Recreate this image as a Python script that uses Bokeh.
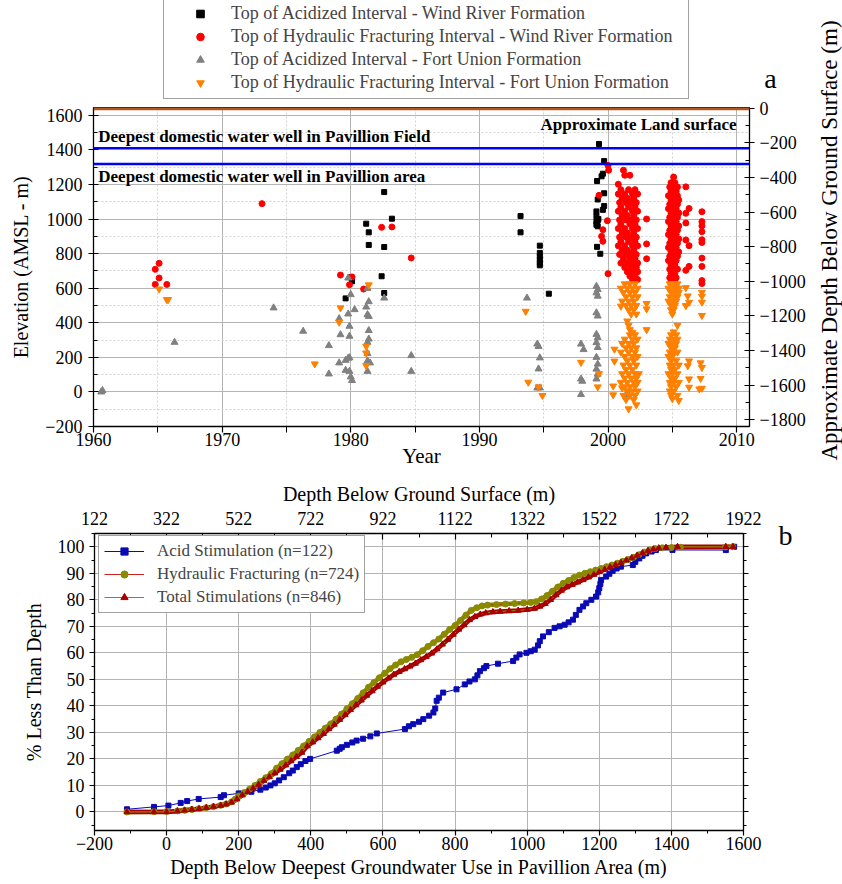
import math
from bokeh.plotting import figure
from bokeh.models import (Range1d, LinearAxis, FixedTicker, SingleIntervalTicker, Span, Label,
                          Legend, LegendItem, CustomJSTickFormatter)
from bokeh.layouts import column, row
from bokeh.embed import file_html
from bokeh.resources import INLINE

FONT = "Liberation Serif"

# ------------------------------------------------------------------ panel a data
land_surface_elev = 1640      # approximate land surface (m AMSL)
field_well_elev = 1410        # deepest domestic water well in Pavillion Field
area_well_elev = 1318         # deepest domestic water well in Pavillion area

year_ticks = [1960, 1970, 1980, 1990, 2000, 2010]
year_minor = [1965, 1975, 1985, 1995, 2005]
depth_ticks = [0, -200, -400, -600, -800, -1000, -1200, -1400, -1600, -1800]

# Top of Acidized Interval - Wind River Formation
acid_wr_year = [1979.6, 1980.0, 1980.1, 1981.2, 1981.4, 1981.4, 1982.4, 1982.6, 1982.6, 1982.6, 1983.2,
                1993.2, 1993.2, 1994.7, 1994.7, 1994.7, 1994.7, 1994.7, 1994.7, 1995.4,
                1999.3, 1999.7, 1999.6, 1999.5, 1999.15, 1999.7, 1999.2, 1999.7, 1999.6, 1999.1,
                1999.1, 1999.2, 1999.25, 1999.1, 1999.2, 1999.1, 1999.15, 1999.4]
acid_wr_elev = [541, 663, 640, 973, 923, 850, 669, 1156, 838, 572, 1002,
                1017, 923, 846, 804, 784, 765, 746, 732, 568,
                1434, 1335, 1262, 1247, 1220, 1149, 1113, 1075, 1053, 1044,
                1016, 992, 1000, 967, 958, 985, 839, 799]

# Top of Hydraulic Fracturing Interval - Wind River Formation (scattered wells)
hf_wr_year = [1964.8, 1965.1, 1965.1, 1964.8, 1965.7, 1973.1, 1979.2, 1980.1, 1979.9, 1981.0,
              1982.4, 1983.2, 1984.7, 1999.3, 1999.6, 1999.5, 1999.6, 1999.95, 2000.0, 2000.0,
              2000.05, 2000.8, 2001.2, 2001.3, 2001.7, 2003.0, 2003.0, 2003.0, 2005.1, 2006.05,
              2006.3, 2006.05, 2006.05, 2006.05, 2006.3, 2006.3, 2006.05, 2007.3, 2007.3, 2007.3,
              2007.3, 2007.3, 2007.3, 2007.3, 2007.3, 2007.3, 2007.3]
hf_wr_elev = [709, 744, 659, 622, 622, 1089, 676, 665, 620, 595,
              952, 954, 775, 1137, 938, 900, 871, 990, 1310, 684,
              1282, 1201, 1282, 1253, 1253, 1000, 856, 770, 1243, 1186,
              1061, 1033, 977, 879, 846, 726, 703, 1042, 985, 960,
              927, 880, 864, 774, 726, 644, 627]

# dense 2001-2002 Wind River fracturing cluster (rows of wells at each elevation)
hf_wr_blobA_elev = [1170, 1145, 1120, 1095, 1070, 1045, 1020, 995, 970, 945, 920,
                    895, 870, 845, 820, 795, 770, 745, 720, 695, 670, 650]
hf_wr_blobA_years = [
    [2001.0, 2001.6, 2002.1], [2000.8, 2001.3, 2001.9, 2002.3], [2001.1, 2001.5, 2002.0],
    [2000.9, 2001.4, 2001.8, 2002.2], [2001.0, 2001.6, 2002.1], [2000.8, 2001.3, 2001.9, 2002.3],
    [2001.1, 2001.5, 2002.0], [2000.9, 2001.4, 2001.8, 2002.2], [2001.0, 2001.7, 2002.1],
    [2000.8, 2001.3, 2001.9, 2002.3], [2001.1, 2001.5, 2002.0], [2000.9, 2001.4, 2001.8, 2002.2],
    [2001.0, 2001.6, 2002.1], [2000.8, 2001.3, 2001.9, 2002.3], [2001.1, 2001.5, 2002.0],
    [2000.9, 2001.4, 2001.8, 2002.2], [2001.2, 2001.7, 2002.1], [2001.0, 2001.5, 2001.9, 2002.3],
    [2001.3, 2001.8, 2002.2], [2001.5, 2001.9, 2002.3], [2001.7, 2002.1], [2001.9, 2002.3]]

# dense 2005 Wind River fracturing cluster
hf_wr_blobB_elev = [1210, 1185, 1160, 1135, 1110, 1085, 1060, 1035, 1010, 985, 960, 935, 910,
                    885, 860, 835, 810, 785, 760, 735, 710, 685, 660, 640]
hf_wr_blobB_years = [
    [2004.9, 2005.2], [2004.8, 2005.1, 2005.4], [2004.9, 2005.3], [2004.7, 2005.0, 2005.4],
    [2004.9, 2005.2, 2005.5], [2004.8, 2005.1, 2005.4], [2004.7, 2005.0, 2005.3],
    [2004.9, 2005.2, 2005.5], [2004.8, 2005.1, 2005.4], [2004.7, 2005.0, 2005.3],
    [2004.9, 2005.2, 2005.5], [2004.8, 2005.1, 2005.4], [2004.7, 2005.0, 2005.3],
    [2004.9, 2005.2, 2005.5], [2004.8, 2005.1, 2005.4], [2004.7, 2005.0, 2005.3],
    [2004.9, 2005.2, 2005.5], [2004.8, 2005.1, 2005.4], [2004.7, 2005.0, 2005.3],
    [2004.9, 2005.2], [2004.8, 2005.1, 2005.4], [2004.9, 2005.2], [2004.8, 2005.1, 2005.3],
    [2004.9, 2005.2]]

# Top of Acidized Interval - Fort Union Formation
acid_fu_year = [1960.6, 1960.7, 1966.3, 1974.0, 1976.3, 1978.3, 1978.3, 1979.1, 1979.2, 1979.1,
                1979.8, 1979.9, 1979.9, 1980.0, 1979.8, 1980.3, 1979.6, 1979.8, 1979.9, 1979.6,
                1979.9, 1980.0, 1980.1, 1981.3, 1981.4, 1981.2, 1981.3, 1981.4, 1981.4, 1981.4,
                1981.3, 1981.3, 1981.3, 1981.5, 1981.3, 1982.6, 1984.7, 1984.7, 1993.7, 1994.5,
                1994.6, 1994.7, 1994.6, 1994.5, 1994.7, 1997.9, 1998.1, 1997.9, 1998.0, 1997.9,
                1999.1, 1999.2, 1999.1, 1999.2, 1999.1, 1999.2, 1999.1, 1999.2, 1999.1, 1999.2,
                1999.1, 1999.2, 1999.1, 1999.2, 1999.1, 2001.5, 2001.6]
acid_fu_elev = [0, 8, 287, 486, 351, 268, 104, 168, 331, 424,
                451, 380, 322, 563, 659, 476, 183, 195, 198, 125,
                119, 87, 66, 599, 522, 491, 447, 437, 355, 306,
                287, 222, 179, 168, 119, 543, 210, 119, 543, 277,
                263, 197, 133, 23, 23, 277, 245, 75, 62, -15,
                611, 592, 573, 554, 458, 439, 333, 314, 285, 257,
                200, 161, 132, 103, 75, -3, -18]

# Top of Hydraulic Fracturing Interval - Fort Union Formation (scattered wells)
hf_fu_year = [1965.1, 1965.7, 1965.8, 1977.2, 1979.2, 1979.1, 1981.4, 1981.2, 1981.2, 1981.2,
              1993.6, 1993.8, 1994.6, 1994.9, 1997.9, 1999.3, 1999.2, 2000.5, 2000.5, 2000.4,
              2000.4, 2001.1, 2001.0, 2003.0, 2003.0, 2001.5, 2001.6, 2001.7, 2001.9, 2003.0,
              2006.05, 2006.2, 2006.3, 2006.05, 2005.4, 2005.1, 2007.3, 2007.3, 2007.3, 2007.3,
              2006.3, 2006.2, 2006.3, 2006.3, 2007.2, 2007.3, 2007.2, 2007.3, 2007.1]
hf_fu_elev = [595, 534, 534, 162, 486, 403, 619, 264, 225, 152,
              466, 56, 29, -21, 171, 106, 29, 247, 178, 34,
              -17, 23, 496, 511, 480, 410, 385, 360, 345, 360,
              603, 555, 518, 499, 385, 347, 576, 553, 519, 442,
              179, 151, 75, 27, 168, 141, 78, 21, 17]

# dense 2001-2002 Fort Union fracturing cluster
hf_fu_blobA_elev = [625, 600, 575, 550, 525, 500, 475, 450,
                    330, 305, 280, 255, 230, 205, 180, 155, 130, 105, 80, 55, 30, 5, -20, -45, -75, -98]
hf_fu_blobA_years = [
    [2001.3, 2001.7, 2002.1], [2001.0, 2001.5, 2001.9, 2002.3], [2001.2, 2001.7, 2002.1],
    [2001.4, 2001.9, 2002.3], [2001.1, 2001.6, 2002.0], [2001.4, 2001.8, 2002.2],
    [2001.6, 2002.0], [2001.8, 2002.2],
    [2001.7, 2002.1], [2001.3, 2001.9, 2002.3], [2001.1, 2001.6, 2002.0], [2001.4, 2001.8, 2002.2],
    [2001.0, 2001.6, 2002.1], [2001.3, 2001.9, 2002.3], [2001.5, 2002.0], [2001.2, 2001.7, 2002.2],
    [2001.4, 2001.9], [2001.1, 2001.6, 2002.1, 2002.4], [2001.3, 2001.8, 2002.2],
    [2001.0, 2001.5, 2002.0, 2002.3], [2001.3, 2001.7, 2002.1], [2001.5, 2001.9, 2002.3],
    [2001.2, 2001.7, 2002.1], [2001.4, 2002.0], [2002.2], [2001.6]]

# dense 2005 Fort Union fracturing cluster
hf_fu_blobB_elev = [625, 600, 575, 550, 525, 500, 475, 450,
                    330, 305, 280, 255, 230, 205, 180, 155, 130, 105, 80, 55, 30, 5, -20, -39, -50]
hf_fu_blobB_years = [
    [2004.8, 2005.1, 2005.4], [2004.7, 2005.0, 2005.3, 2005.5], [2004.9, 2005.2, 2005.5],
    [2004.8, 2005.1, 2005.4], [2004.7, 2005.0, 2005.3], [2004.9, 2005.2], [2004.9, 2005.1], [2005.0],
    [2004.9, 2005.3], [2004.8, 2005.1, 2005.4], [2004.7, 2005.0, 2005.3], [2004.9, 2005.2],
    [2004.8, 2005.1, 2005.4], [2004.7, 2005.0], [2004.9, 2005.3], [2004.8, 2005.1, 2005.5],
    [2004.9, 2005.2], [2004.7, 2005.0, 2005.4], [2004.9, 2005.2], [2004.8, 2005.1, 2005.5],
    [2004.9, 2005.3], [2004.8, 2005.1], [2004.9, 2005.4], [2005.0], [2005.5]]

# ------------------------------------------------------------------ panel b data
shallowest_use_depth = 322    # depth (m) of deepest groundwater use -> offset of top axis

acid_depth = [-110, -35, 5, 39, 57, 89, 150, 159, 200, 235, 260, 275, 288, 300, 312, 325, 340, 350,
              361, 372, 385, 398, 472, 480, 486, 500, 515, 527, 545, 565, 583, 661, 672, 684, 700,
              712, 728, 740, 745, 749, 755, 767, 804, 827, 840, 855, 862, 869, 880, 887, 919, 961,
              970, 979, 998, 1010, 1021, 1030, 1035, 1044, 1060, 1076, 1090, 1104, 1115, 1127, 1135,
              1145, 1155, 1164, 1178, 1191, 1197, 1200, 1203, 1205, 1219, 1228, 1237, 1248, 1260,
              1293, 1300, 1311, 1320, 1330, 1345, 1357, 1403, 1551, 1574]
acid_pct = [1.0, 1.9, 2.4, 3.4, 4.1, 4.9, 5.6, 6.3, 7.0, 7.6, 8.4, 9.2, 10.0, 10.8, 11.9, 13.1, 14.6, 15.6,
            16.9, 18.0, 19.2, 20.0, 23.1, 23.8, 24.4, 25.3, 26.2, 26.9, 27.6, 28.5, 29.6, 31.25, 32.3, 33.1, 34.0,
            35.0, 36.3, 37.5, 39.0, 41.9, 43.1, 45.0, 46.25, 48.1, 49.2, 50.0, 51.5, 53.1, 54.2, 55.0, 55.9, 56.9,
            58.2, 59.4, 60.0, 60.6, 61.2, 62.8, 64.4, 66.2, 67.8, 69.4, 70.0, 70.6, 71.5, 72.5, 74.3,
            76.2, 77.5, 78.7, 80.0, 81.2, 82.8, 84.4, 86.0, 87.5, 88.75, 89.8, 90.9, 91.8, 92.5,
            93.1, 94.3, 95.6, 96.6, 97.5, 98.2, 98.75, 98.8, 98.75, 100.0]

hf_depth = [-110, -35, 0, 30, 50, 70, 90, 110, 130, 150, 165, 180, 190, 200, 215, 230, 245, 260, 275, 290,
            305, 320, 335, 350, 365, 380, 395, 410, 425, 440, 455, 470, 485, 500, 515, 530, 545, 560, 575,
            590, 605, 620, 635, 650, 665, 680, 695, 710, 725, 740, 755, 770, 785, 800, 815, 830, 845, 860,
            875, 890, 915, 940, 965, 990, 1010, 1025, 1040, 1055, 1070, 1085, 1100, 1115, 1130, 1145,
            1160, 1175, 1190, 1205, 1220, 1235, 1250, 1265, 1280, 1295, 1310, 1325, 1340, 1355, 1375,
            1400, 1425, 1550, 1570]
hf_pct = [0.0, 0.1, 0.2, 0.4, 0.6, 0.9, 1.2, 1.6, 2.0, 2.5, 3.0, 3.8, 4.8, 6.0, 7.3, 8.6, 10.0, 11.5, 12.9, 14.4,
          16.5, 18.2, 19.9, 21.5, 23.2, 24.9, 26.6, 28.3, 30.0, 31.6, 33.2, 35.0, 36.9, 38.9, 40.8, 42.8, 44.9,
          47.0, 48.8, 50.6, 52.3, 54.0, 55.4, 56.6, 57.5, 58.3, 59.3, 60.8, 62.4, 63.8, 65.2, 67.0, 68.8, 70.3,
          72.2, 74.2, 76.0, 77.0, 77.7, 78.0, 78.2, 78.4, 78.6, 78.8, 79.0, 79.3, 80.3, 81.6, 83.2, 84.8,
          86.2, 87.3, 88.4, 89.3, 90.0, 90.6, 91.2, 91.8, 92.5, 93.1, 93.8, 94.5, 95.2, 96.0, 97.0, 98.0,
          98.8, 99.3, 99.6, 99.7, 99.8, 99.9, 100.0]

total_depth = [-110, -35, 0, 30, 50, 70, 90, 110, 130, 150, 165, 180, 195, 210, 225, 240, 255, 270, 285,
               300, 315, 330, 345, 360, 375, 390, 405, 420, 435, 450, 465, 480, 495, 510, 525, 540, 555,
               570, 585, 600, 615, 630, 645, 660, 675, 690, 705, 720, 735, 750, 765, 780, 795, 810, 825,
               840, 855, 870, 885, 905, 925, 950, 975, 1000, 1020, 1035, 1050, 1065, 1080, 1095, 1110,
               1125, 1140, 1155, 1170, 1185, 1200, 1215, 1230, 1245, 1260, 1275, 1290, 1305, 1320, 1335,
               1350, 1365, 1385, 1417, 1551, 1571]
total_pct = [0.0, 0.0, 0.0, 0.3, 0.6, 0.9, 1.2, 1.6, 2.0, 2.4, 2.9, 3.6, 4.8, 6.3, 7.6, 8.9, 10.3, 11.8, 13.2,
             14.6, 16.0, 17.6, 19.2, 20.8, 22.4, 24.8, 26.3, 27.9, 29.5, 31.3, 33.0, 34.8, 36.6, 38.5, 40.3,
             42.1, 43.9, 45.6, 47.3, 48.9, 50.4, 51.8, 52.9, 53.9, 54.9, 56.0, 57.3, 58.5, 59.8, 61.4, 63.2,
             65.0, 66.9, 68.8, 70.5, 72.4, 73.6, 74.5, 75.0, 75.4, 75.6, 75.8, 76.0, 76.3, 76.7, 77.5, 78.5,
             80.0, 81.8, 83.5, 84.8, 85.7, 86.6, 87.5, 88.5, 89.5, 90.5, 91.4, 92.3, 93.1, 94.0, 94.9,
             95.8, 96.7, 97.6, 98.5, 99.1, 99.5, 99.7, 100.0, 100.0, 100.0]

top_depth_ticks = [122, 322, 522, 722, 922, 1122, 1322, 1522, 1722, 1922]
top_depth_minor = [222, 422, 622, 822, 1022, 1222, 1422, 1622, 1822]


def expand(levels, rows):
    xs, ys = [], []
    for lev, r in zip(levels, rows):
        for yr in r:
            xs.append(yr)
            ys.append(lev)
    return xs, ys


bx, by = expand(hf_wr_blobA_elev, hf_wr_blobA_years)
cx, cy = expand(hf_wr_blobB_elev, hf_wr_blobB_years)
red_x = hf_wr_year + bx + cx
red_y = hf_wr_elev + by + cy
ox1, oy1 = expand(hf_fu_blobA_elev, hf_fu_blobA_years)
ox2, oy2 = expand(hf_fu_blobB_elev, hf_fu_blobB_years)
orange_x = hf_fu_year + ox1 + ox2
orange_y = hf_fu_elev + oy1 + oy2

GRID = "#b4b4b4"
MINOR_GRID = "#d2d2d2"
C_BLACK, C_RED, C_GRAY, C_ORANGE = "black", "#ff0000", "#808080", "#ff8000"


def style_axis(ax, tick_size="18px", label_size="20px"):
    ax.major_label_text_font = FONT
    ax.major_label_text_font_size = tick_size
    ax.major_label_text_color = "black"
    ax.axis_label_text_font = FONT
    ax.axis_label_text_font_size = label_size
    ax.axis_label_text_font_style = "normal"
    ax.axis_label_text_color = "black"
    ax.axis_line_color = "black"
    ax.axis_line_width = 1.3
    ax.major_tick_line_color = "black"
    ax.minor_tick_line_color = "black"
    ax.major_tick_line_width = 1.2


def blank_fig(w, h):
    f = figure(width=w, height=h, x_range=Range1d(0, w), y_range=Range1d(0, h),
               x_axis_type=None, y_axis_type=None, output_backend="svg", toolbar_location=None,
               min_border=0, min_border_left=0, min_border_right=0, min_border_top=0, min_border_bottom=0)
    f.outline_line_color = None
    f.background_fill_color = "white"
    f.border_fill_color = "white"
    f.grid.visible = False
    return f


TOP_W = 815          # width of panel a (the strip to its right carries the right axis title)
HEAD_H = 100         # header above panel a carrying its legend and the letter "a"

# ------------------------------------------------------------------ header of panel a
ph = blank_fig(TOP_W, HEAD_H)
# legend proxies: one real point of each series, which lies outside this header's view
g1 = ph.scatter(acid_wr_year[:1], acid_wr_elev[:1], marker="square", size=5, color=C_BLACK)
g2 = ph.scatter(hf_wr_year[:1], hf_wr_elev[:1], marker="circle", size=6, color=C_RED)
g3 = ph.scatter(acid_fu_year[:1], acid_fu_elev[:1], marker="triangle", size=7, color=C_GRAY)
g4 = ph.scatter(hf_fu_year[:1], hf_fu_elev[:1], marker="inverted_triangle", size=7, color=C_ORANGE)
leg1 = Legend(items=[
    LegendItem(label="Top of Acidized Interval - Wind River Formation", renderers=[g1]),
    LegendItem(label="Top of Hydraulic Fracturing Interval - Wind River Formation", renderers=[g2]),
    LegendItem(label="Top of Acidized Interval - Fort Union Formation", renderers=[g3]),
    LegendItem(label="Top of Hydraulic Fracturing Interval - Fort Union Formation", renderers=[g4]),
], location=(163, 1))
leg1.label_text_font = FONT
leg1.label_text_font_size = "18px"
leg1.glyph_width = 62
leg1.glyph_height = 19
leg1.label_height = 19
leg1.label_standoff = 0
leg1.label_width = 452
leg1.spacing = 2
leg1.padding = 5
leg1.margin = 0
leg1.border_line_color = "#444444"
leg1.border_line_width = 1
leg1.background_fill_alpha = 1
ph.add_layout(leg1)
ph.add_layout(Label(x=770, y=HEAD_H - 78, text="a", text_font=FONT, text_font_size="28px",
                    text_align="center", text_baseline="middle", text_color="black"))

# ------------------------------------------------------------------ panel a
y_lo, y_hi = -200, 1645
p1 = figure(width=TOP_W, height=470 - HEAD_H, x_range=Range1d(1960, 2011), y_range=Range1d(y_lo, y_hi),
            output_backend="svg", toolbar_location=None,
            min_border_left=93, min_border_right=TOP_W - 749, min_border_top=107 - HEAD_H,
            min_border_bottom=42)
p1.extra_y_ranges = {"depth": Range1d(y_lo - land_surface_elev, y_hi - land_surface_elev)}
p1.outline_line_color = "black"
p1.background_fill_color = "white"
p1.border_fill_color = "white"

p1.xaxis.ticker = FixedTicker(ticks=year_ticks, minor_ticks=year_minor)
p1.xaxis.axis_label = "Year"
style_axis(p1.xaxis[0], label_size="21px")
p1.xaxis.major_tick_out = 6
p1.xaxis.major_tick_in = 0
p1.xaxis.minor_tick_out = 6
p1.xaxis.minor_tick_in = 0
p1.xaxis.major_label_standoff = 0
p1.xaxis.axis_label_standoff = -5

p1.yaxis.ticker = SingleIntervalTicker(interval=200, num_minor_ticks=2)
p1.yaxis.axis_label = "Elevation (AMSL - m)"
style_axis(p1.yaxis[0])
p1.yaxis.major_tick_out = 5
p1.yaxis.major_tick_in = 5
p1.yaxis.minor_tick_out = 0
p1.yaxis.minor_tick_in = 4
p1.yaxis.major_label_standoff = 6
p1.yaxis.axis_label_standoff = 10

rax = LinearAxis(y_range_name="depth",
                 ticker=FixedTicker(ticks=depth_ticks, minor_ticks=[d - 100 for d in depth_ticks]))
style_axis(rax)
rax.major_tick_out = 5
rax.major_tick_in = 5
rax.minor_tick_out = 0
rax.minor_tick_in = 4
rax.major_label_standoff = 5
p1.add_layout(rax, "right")

p1.xgrid.grid_line_color = GRID
p1.ygrid.grid_line_color = GRID
p1.xgrid.minor_grid_line_color = MINOR_GRID
p1.ygrid.minor_grid_line_color = MINOR_GRID
p1.xgrid.minor_grid_line_dash = "2 2"
p1.ygrid.minor_grid_line_dash = "2 2"

p1.add_layout(Span(location=field_well_elev, dimension="width", line_color="#0000ff", line_width=2.4))
p1.add_layout(Span(location=area_well_elev, dimension="width", line_color="#0000ff", line_width=2.4))
p1.add_layout(Span(location=land_surface_elev, dimension="width", line_color="#b0561e", line_width=4))

p1.scatter(acid_wr_year, acid_wr_elev, marker="square", size=5, color=C_BLACK)
p1.scatter(red_x, red_y, marker="circle", size=6, color=C_RED)
p1.scatter(acid_fu_year, acid_fu_elev, marker="triangle", size=7, color=C_GRAY)
p1.scatter(orange_x, orange_y, marker="inverted_triangle", size=7, color=C_ORANGE)

p1.add_layout(Label(x=1960.37, y=field_well_elev + 10, text="Deepest domestic water well in Pavillion Field",
                    text_font=FONT, text_font_size="17px", text_font_style="bold",
                    text_baseline="bottom", text_align="left", text_color="black"))
p1.add_layout(Label(x=1960.37, y=area_well_elev - 20, text="Deepest domestic water well in Pavillion area",
                    text_font=FONT, text_font_size="17px", text_font_style="bold",
                    text_baseline="top", text_align="left", text_color="black"))
p1.add_layout(Label(x=2010.0, y=land_surface_elev - 38, text="Approximate Land surface", text_font=FONT,
                    text_font_size="17px", text_font_style="bold", text_baseline="top",
                    text_align="right", text_color="black"))

# strip to the right of panel a with the title of its right axis
ps = blank_fig(842 - TOP_W, 470)
ps.add_layout(Label(x=14, y=470 - 240, text="Approximate Depth Below Ground Surface (m)", angle=math.pi / 2,
                    text_font=FONT, text_font_size="23px", text_align="center", text_baseline="middle",
                    text_color="black"))

# ------------------------------------------------------------------ panel b
P2_W = 770
p2 = figure(width=P2_W, height=414, x_range=Range1d(-200, 1600), y_range=Range1d(-7, 105),
            output_backend="svg", toolbar_location=None,
            min_border_left=94, min_border_right=P2_W - 743, min_border_top=63, min_border_bottom=54)
p2.extra_x_ranges = {"ground": Range1d(-200 + shallowest_use_depth, 1600 + shallowest_use_depth)}
p2.outline_line_color = "black"
p2.background_fill_color = "white"
p2.border_fill_color = "white"

p2.xaxis.ticker = SingleIntervalTicker(interval=200, num_minor_ticks=2)
p2.xaxis.axis_label = "Depth Below Deepest Groundwater Use in Pavillion Area (m)"
style_axis(p2.xaxis[0])
p2.xaxis.major_tick_out = 5
p2.xaxis.major_tick_in = 0
p2.xaxis.minor_tick_out = 3
p2.xaxis.minor_tick_in = 0
p2.xaxis.major_label_standoff = 1
p2.xaxis.axis_label_standoff = 3

p2.yaxis.ticker = SingleIntervalTicker(interval=10, num_minor_ticks=2)
p2.yaxis.axis_label = "% Less Than Depth"
style_axis(p2.yaxis[0])
p2.yaxis.major_tick_out = 5
p2.yaxis.major_tick_in = 0
p2.yaxis.minor_tick_out = 3
p2.yaxis.minor_tick_in = 0
p2.yaxis.major_label_standoff = 5
p2.yaxis.axis_label_standoff = 10

tax = LinearAxis(x_range_name="ground", ticker=FixedTicker(ticks=top_depth_ticks, minor_ticks=top_depth_minor),
                 axis_label="Depth Below Ground Surface (m)")
style_axis(tax)
tax.major_tick_out = 0
tax.major_tick_in = 6
tax.minor_tick_out = 0
tax.minor_tick_in = 4
tax.major_label_standoff = 9
tax.axis_label_standoff = 4
p2.add_layout(tax, "above")

r2 = LinearAxis(ticker=SingleIntervalTicker(interval=10, num_minor_ticks=2),
                formatter=CustomJSTickFormatter(code="return ''"))
style_axis(r2)
r2.major_tick_out = 5
r2.major_tick_in = 0
r2.minor_tick_out = 3
r2.minor_tick_in = 0
r2.major_label_standoff = 0
p2.add_layout(r2, "right")

p2.xgrid.grid_line_color = GRID
p2.ygrid.grid_line_color = GRID

BLUE = "#0a0ab4"
OLIVE = "#8a8a00"
DARKRED = "#a80000"

# dense marker chains drawn as a thick band in the marker colour
p2.line(hf_depth, hf_pct, line_color=OLIVE, line_width=4.5)
p2.line(total_depth, total_pct, line_color=DARKRED, line_width=4.5)

la = p2.line(acid_depth, acid_pct, line_color=BLUE, line_width=1)
sa = p2.scatter(acid_depth, acid_pct, marker="square", size=5, color=BLUE)
lh = p2.line(hf_depth, hf_pct, line_color="#cc2020", line_width=1)
sh = p2.scatter(hf_depth, hf_pct, marker="circle", size=6, color=OLIVE)
lt = p2.line(total_depth, total_pct, line_color=OLIVE, line_width=1)
st = p2.scatter(total_depth, total_pct, marker="triangle", size=6, color=DARKRED)

leg2 = Legend(items=[
    LegendItem(label="Acid Stimulation (n=122)", renderers=[la, sa]),
    LegendItem(label="Hydraulic Fracturing (n=724)", renderers=[lh, sh]),
    LegendItem(label="Total Stimulations (n=846)", renderers=[lt, st]),
], location=(4, 217))
leg2.label_text_font = FONT
leg2.label_text_font_size = "17px"
leg2.glyph_width = 40
leg2.glyph_height = 18
leg2.label_height = 18
leg2.label_standoff = 13
leg2.spacing = 3
leg2.padding = 5
leg2.margin = 0
leg2.border_line_color = "#444444"
leg2.border_line_width = 1
leg2.background_fill_alpha = 1
p2.add_layout(leg2)

# side strip carrying the panel letter "b"
pb = blank_fig(842 - P2_W, 414)
pb.add_layout(Label(x=785 - P2_W, y=414 - 65, text="b", text_font=FONT, text_font_size="28px",
                    text_align="center", text_baseline="middle", text_color="black"))

top_block = row(column(row(ph), p1, spacing=0), column(ps), spacing=0)
bottom_block = row(p2, column(pb), spacing=0)
layout = column(top_block, bottom_block, spacing=0)
open("out.html", "w").write(file_html(layout, INLINE))
